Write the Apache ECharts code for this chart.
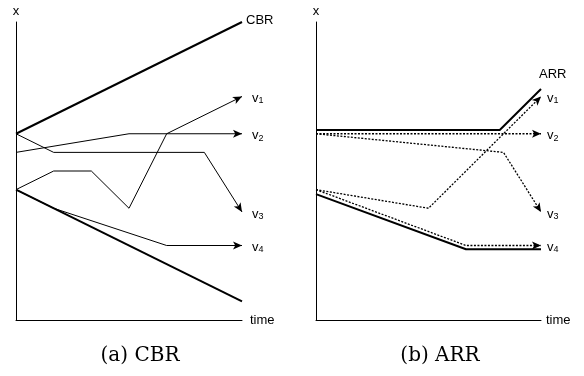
<!DOCTYPE html>
<html>
<head>
<meta charset="utf-8">
<script src="https://cdn.jsdelivr.net/npm/echarts@6/dist/echarts.min.js"></script>
<style>
  html, body { margin: 0; padding: 0; background: #fff; }
  #chart { width: 584px; height: 376px; }
</style>
</head>
<body>
<div id="chart"></div>
<script>
// (a) CBR - points are [time, x]
const cbrUpper = [[0, 5], [6, 8]];
const cbrLower = [[0, 3.5], [6, 0.5]];
const cbrV1 = [[0, 3.5], [1, 4], [2, 4], [3, 3], [4, 5], [6, 6]];
const cbrV2 = [[0, 4.5], [3, 5], [6, 5]];
const cbrV3 = [[0, 5], [1, 4.5], [5, 4.5], [6, 2.9]];
const cbrV4 = [[0, 3.5], [1, 3], [4, 2], [6, 2]];

// (b) ARR
const arrUpper = [[0, 5.1], [4.9, 5.1], [6, 6.2]];
const arrLower = [[0, 3.38], [4, 1.9], [6, 1.9]];
const arrV1 = [[0, 3.5], [3, 3], [6, 6]];
const arrV2 = [[0, 5], [6, 5]];
const arrV3 = [[0, 5], [5, 4.5], [6, 2.9]];
const arrV4 = [[0, 3.5], [4, 2], [6, 2]];

const vNames = ['v{s|1}', 'v{s|2}', 'v{s|3}', 'v{s|4}'];
const panelCaptions = ['(a) CBR', '(b) ARR'];

const sans = 'Liberation Sans';
const subRich = { s: { fontSize: 9, fontFamily: sans, color: '#000', padding: [5, 0, 0, 0] } };

const chart = echarts.init(document.getElementById('chart'));

function axisX(grid, gap) {
  return {
    type: 'value', gridIndex: grid, min: 0, max: 6,
    name: 'time', nameLocation: 'end', nameGap: gap,
    nameTextStyle: { fontFamily: sans, fontSize: 13, color: '#000' },
    axisLine: { lineStyle: { color: '#000', width: 1 } },
    axisTick: { show: false }, axisLabel: { show: false }, splitLine: { show: false }
  };
}
function axisY(grid) {
  return {
    type: 'value', gridIndex: grid, min: 0, max: 8,
    name: 'x', nameLocation: 'end', nameGap: 4,
    nameTextStyle: { fontFamily: sans, fontSize: 13, color: '#000' },
    axisLine: { lineStyle: { color: '#000', width: 1 } },
    axisTick: { show: false }, axisLabel: { show: false }, splitLine: { show: false }
  };
}

function path(pts, grid, style, label, arrow) {
  const s = {
    type: 'line', xAxisIndex: grid, yAxisIndex: grid,
    data: pts, symbol: 'none', silent: true,
    lineStyle: Object.assign({ color: '#000' }, style)
  };
  if (label) {
    s.endLabel = Object.assign({
      show: true, color: '#000', fontFamily: sans, fontSize: 13, rich: subRich
    }, label);
  }
  if (arrow) {
    // arrow head only, on the last segment
    const n = pts.length;
    s.markLine = {
      silent: true, symbol: ['none', 'arrow'], symbolSize: [6, 9],
      label: { show: false },
      lineStyle: { color: '#000', width: 0, type: 'solid' },
      data: [[{ coord: pts[n - 2] }, { coord: pts[n - 1] }]]
    };
  }
  return s;
}

const thick = { width: 2 };
const thin = { width: 1 };
const dot = { width: 1.3, type: [2, 1.5] };
const vLab = (i, d) => ({ formatter: vNames[i], distance: d, offset: [0, 2] });

chart.setOption({
  animation: false,
  grid: [
    { left: 16, top: 22, width: 226, height: 298 },
    { left: 316, top: 22, width: 225, height: 298 }
  ],
  xAxis: [axisX(0, 8), axisX(1, 5)],
  yAxis: [axisY(0), axisY(1)],
  graphic: panelCaptions.map((t, i) => ({
    type: 'text', x: [140, 440][i], y: 356,
    style: { text: t, font: '20px "DejaVu Serif"', fill: '#000', textAlign: 'center', textVerticalAlign: 'middle' }
  })),
  series: [
    path(cbrUpper, 0, thick, { formatter: 'CBR', distance: 4, offset: [0, -2] }),
    path(cbrLower, 0, thick),
    path(cbrV1, 0, thin, vLab(0, 10), true),
    path(cbrV2, 0, thin, vLab(1, 10), true),
    path(cbrV3, 0, thin, vLab(2, 10), true),
    path(cbrV4, 0, thin, vLab(3, 10), true),
    path(arrUpper, 1, thick, { formatter: 'ARR', distance: 0, offset: [-2, -15] }),
    path(arrLower, 1, thick),
    path(arrV1, 1, dot, vLab(0, 6), true),
    path(arrV2, 1, dot, vLab(1, 6), true),
    path(arrV3, 1, dot, vLab(2, 6), true),
    path(arrV4, 1, dot, vLab(3, 6), true)
  ]
});
</script>
</body>
</html>
